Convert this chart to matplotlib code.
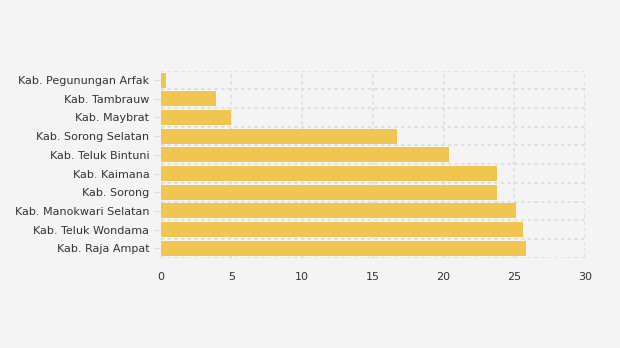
import matplotlib.pyplot as plt

regions = ['Kab. Pegunungan Arfak', 'Kab. Tambrauw', 'Kab. Maybrat',
           'Kab. Sorong Selatan', 'Kab. Teluk Bintuni', 'Kab. Kaimana',
           'Kab. Sorong', 'Kab. Manokwari Selatan', 'Kab. Teluk Wondama',
           'Kab. Raja Ampat']
values = [0.4, 3.95, 5.0, 16.7, 20.4, 23.75, 23.8, 25.15, 25.65, 25.8]
x_ticks = [0, 5, 10, 15, 20, 25, 30]

bg = '#f4f4f4'
bar_color = '#f0c651'
grid_color = '#dcdcdc'

fig = plt.figure(figsize=(6.2, 3.48), dpi=100, facecolor=bg)
ax = fig.add_axes([160.5 / 620, 1 - 257.7 / 348, (585 - 160.5) / 620, (257.7 - 70.7) / 348])
ax.set_facecolor(bg)

ypos = list(range(len(regions)))
ax.barh(ypos, values, height=0.8, color=bar_color, zorder=2)

ax.set_xlim(0, 30)
ax.set_ylim(len(regions) - 0.5, -0.5)
ax.set_xticks(x_ticks)
ax.set_xticklabels([str(t) for t in x_ticks])
ax.set_yticks(ypos)
ax.set_yticklabels(regions)

# grid: vertical at x ticks, horizontal at category boundaries
for t in x_ticks:
    ax.axvline(t, color=grid_color, lw=1.2, ls=(0, (2, 2)), zorder=1)
for b in range(len(regions) + 1):
    ax.axhline(b - 0.5, color=grid_color, lw=1.2, ls=(0, (2, 2)), zorder=1)

for s in ax.spines.values():
    s.set_visible(False)

ax.tick_params(axis='y', length=5, color=grid_color, pad=3, labelsize=8, labelcolor='#333333')
ax.tick_params(axis='x', length=0, pad=10, labelsize=8, labelcolor='#333333')

plt.savefig('out.png', dpi=100, facecolor=bg)
